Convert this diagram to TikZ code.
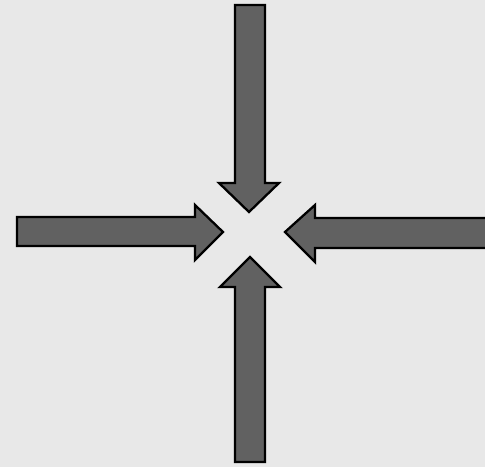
\documentclass[tikz,border=0pt]{standalone}
\begin{document}
\begin{tikzpicture}[x=0.02cm, y=-0.02cm,
	bigarrow/.style={fill=black!62, draw=black, line width=1.3pt, line join=miter}]
	% Nền
	\fill[black!9] (0,0) rectangle (485,467);
	\useasboundingbox (0,0) rectangle (485,467);
	\clip (0,0) rectangle (485,467);
	% Mũi tên trên
	\draw[bigarrow] (235,5) -- (265,5) -- (265,183) -- (279,183) -- (249,212) -- (219,183) -- (235,183) -- cycle;
	% Mũi tên dưới
	\draw[bigarrow] (235,462) -- (265,462) -- (265,287) -- (280,287) -- (250,257) -- (220,287) -- (235,287) -- cycle;
	% Mũi tên trái
	\draw[bigarrow] (17,217) -- (195,217) -- (195,205) -- (223,232) -- (195,260) -- (195,246) -- (17,246) -- cycle;
	% Mũi tên phải
	\draw[bigarrow] (495,218) -- (315,218) -- (315,205) -- (285,232) -- (315,262) -- (315,248) -- (495,248) -- cycle;
\end{tikzpicture}
\end{document}
